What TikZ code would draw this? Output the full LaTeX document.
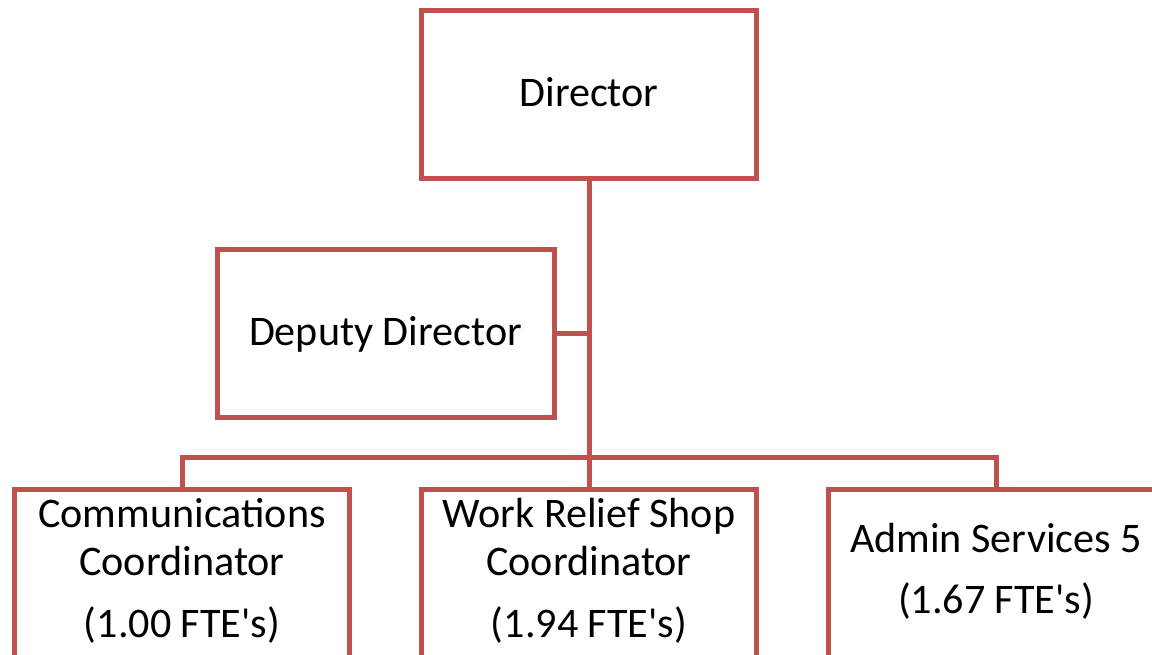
\documentclass[tikz,border=0pt]{standalone}
\usepackage{fontspec}
\newfontfamily\calib{Carlito}
\definecolor{boxred}{HTML}{C0504D}
\begin{document}
\begin{tikzpicture}[x=0.75pt,y=-0.75pt,
  box/.style={draw=boxred, line width=3.75pt, fill=white, rectangle, inner sep=0pt, minimum height=126pt},
  conn/.style={draw=boxred, line width=3.75pt},
  lbl/.style={anchor=base, inner sep=0pt, font=\calib\fontsize{31.6}{36}\selectfont, text=black}]
\clip (0,0) rectangle (1152,655);
\fill[white] (0,0) rectangle (1152,655);
% boxes
\node[box, minimum width=251.25pt] (dir) at (589,94.5) {};
\node[box, minimum width=252.75pt] (dep) at (385.5,333.5) {};
\node[box, minimum width=251.25pt] (comm) at (182,573.5) {};
\node[box, minimum width=251.25pt] (work) at (589,573.5) {};
\node[box, minimum width=251.25pt] (admin) at (996,573.5) {};
% connectors
\coordinate (bus) at (589,457);
\draw[conn] (dir.south) -- (work.north);
\draw[conn] (dep.east) -- (dep.east -| dir.south);
\draw[conn] (comm.north) -- (comm.north |- bus) -- (admin.north |- bus) -- (admin.north);
% redraw boxes on top
\node[box, minimum width=251.25pt] at (dir) {};
\node[box, minimum width=252.75pt] at (dep) {};
\node[box, minimum width=251.25pt] at (comm) {};
\node[box, minimum width=251.25pt] at (work) {};
\node[box, minimum width=251.25pt] at (admin) {};
% texts
\node[lbl] (tdir) at (589,107) {Director};
\node[lbl] (tdep) at (385.5,346) {Deputy Director};
\node[lbl] (tc1) at (182,527) {Communications};
\node[lbl] (tc2) at (182,575) {Coordinator};
\node[lbl] (tc3) at (182,637) {(1.00 FTE's)};
\node[lbl] (tw1) at (589,527) {Work Relief Shop};
\node[lbl] (tw2) at (589,575) {Coordinator};
\node[lbl] (tw3) at (589,637) {(1.94 FTE's)};
\node[lbl] (ta1) at (996,552) {Admin Services 5};
\node[lbl] (ta2) at (996,613) {(1.67 FTE's)};
\end{tikzpicture}
\end{document}
